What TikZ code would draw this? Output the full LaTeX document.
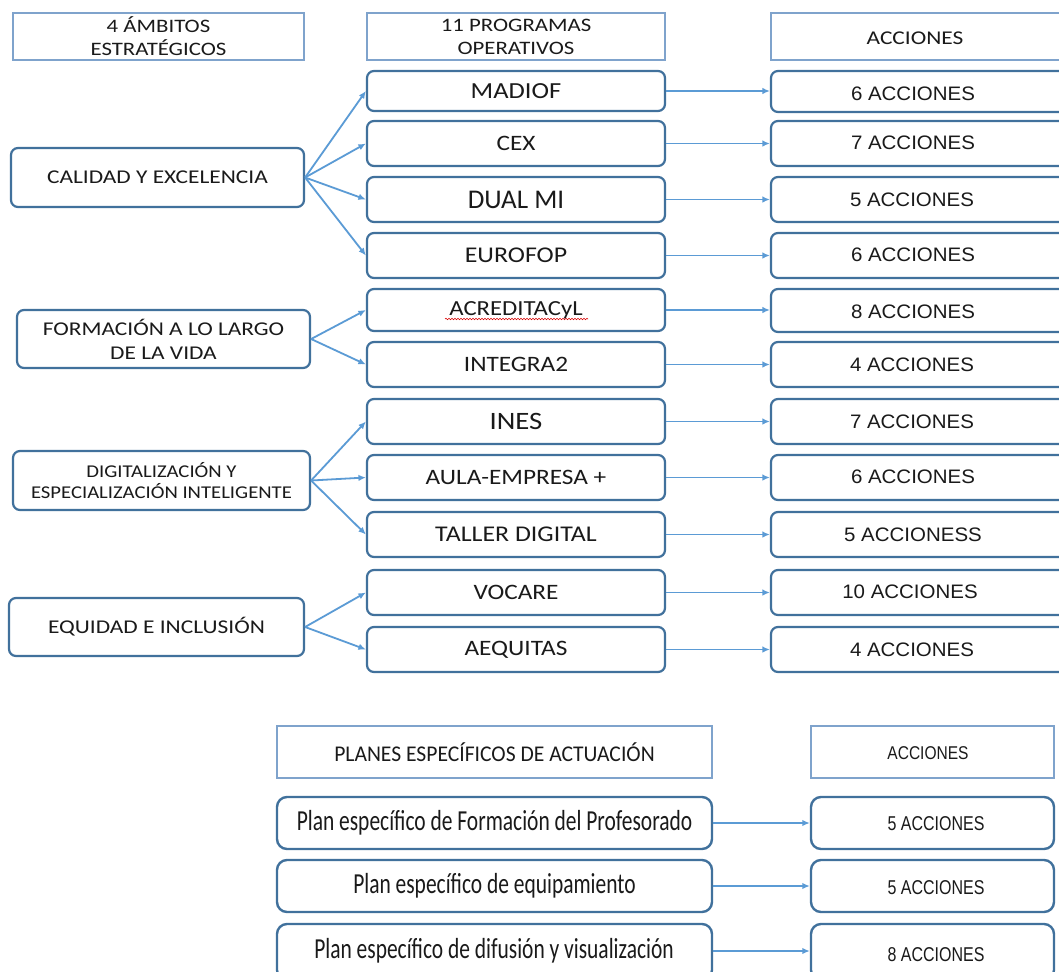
\documentclass[tikz,border=0pt]{standalone}
\usepackage{fontspec}
\setmainfont{Carlito}
\newfontfamily\calN{Carlito}
\newfontfamily\calW{Carlito}[FakeStretch=1.15]
\newfontfamily\calA{Carlito}[FakeStretch=1.2]
\newfontfamily\arialW{Liberation Sans}[FakeStretch=1.05]
\newfontfamily\narrowH{Carlito}[FakeStretch=0.96]
\newfontfamily\narrowF{Carlito}[FakeStretch=0.74]
\newfontfamily\arialN{Liberation Sans}[FakeStretch=0.8]
\newfontfamily\arialH{Liberation Sans}[FakeStretch=0.84]
\usetikzlibrary{arrows.meta,fit,decorations.pathmorphing}
\definecolor{boxblue}{HTML}{41719C}
\definecolor{hdrblue}{HTML}{7FA3CC}
\definecolor{arrblue}{HTML}{5B9BD5}
\definecolor{txt}{HTML}{1A1A1A}
\tikzset{
  hdr/.style={draw=hdrblue, line width=1.4pt, inner sep=0pt},
  bx/.style={draw=boxblue, line width=2.2pt, rounded corners=7pt, inner sep=0pt},
  bbx/.style={draw=boxblue, line width=2.4pt, rounded corners=10pt, inner sep=0pt},
  lbl/.style={text=txt, align=center, inner sep=0pt},
  arr/.style={draw=arrblue, line width=1.8pt, -{Latex[length=7.5pt,width=6.5pt]}},
}
% name, x1, y1, x2, y2, box style, font, text
\newcommand\mybox[8]{%
  \coordinate (#1-a) at (#2,#3);
  \coordinate (#1-b) at (#4,#5);
  \node[#6, fit=(#1-a)(#1-b)] (#1) {};
  \node[lbl, font={#7}] (#1-t) at (#1.center) {#8};
}
\begin{document}
\begin{tikzpicture}[x=1pt,y=-1pt]
\useasboundingbox[fill=white] (0,0) rectangle (1059,971);
% headers
\mybox{h1}{13}{13}{304}{60}{hdr}{}{}
\node[lbl, font=\calA\fontsize{19}{23}\selectfont] (h1-t) at (158.5,36.5) {4 ÁMBITOS\\ESTRATÉGICOS};
\mybox{h2}{367}{13}{665}{60}{hdr}{}{}
\node[lbl, font=\calA\fontsize{19}{23}\selectfont] (h2-t) at (516,36.5) {11 PROGRAMAS\\OPERATIVOS};
\mybox{h3}{771}{13}{1070}{60}{hdr}{}{}
\node[lbl, font=\calA\fontsize{19.5}{20}\selectfont] (h3-t) at (915,38) {ACCIONES};
% ambitos
\mybox{a1}{11}{148}{304}{207}{bx}{\calA\fontsize{19.5}{20}\selectfont}{CALIDAD Y EXCELENCIA}
\mybox{a2}{17}{310}{310}{368}{bx}{\calA\fontsize{19.5}{24}\selectfont}{FORMACIÓN A LO LARGO\\DE LA VIDA}
\mybox{a3}{13}{451}{310}{510}{bx}{\calW\fontsize{18}{21}\selectfont}{DIGITALIZACIÓN Y\\ESPECIALIZACIÓN INTELIGENTE}
\mybox{a4}{9}{598}{304}{656}{bx}{\calA\fontsize{19.5}{20}\selectfont}{EQUIDAD E INCLUSIÓN}
% programas
\mybox{p1}{367}{71}{665}{111}{bx}{\calW\fontsize{23}{24}\selectfont}{MADIOF}
\mybox{p2}{367}{121}{665}{166}{bx}{\calW\fontsize{22}{23}\selectfont}{CEX}
\mybox{p3}{367}{177}{665}{222}{bx}{\calN\fontsize{27}{28}\selectfont}{DUAL MI}
\mybox{p4}{367}{233}{665}{278}{bx}{\calW\fontsize{22.5}{23}\selectfont}{EUROFOP}
\mybox{p5}{367}{289}{665}{331}{bx}{\calW\fontsize{21.5}{22}\selectfont}{ACREDITACyL}
\mybox{p6}{367}{342}{665}{387}{bx}{\calW\fontsize{22}{22}\selectfont}{INTEGRA2}
\mybox{p7}{367}{399}{665}{444}{bx}{\calW\fontsize{25}{26}\selectfont}{INES}
\mybox{p8}{367}{455}{665}{500}{bx}{\calW\fontsize{22}{22}\selectfont}{AULA-EMPRESA +}
\mybox{p9}{367}{512}{665}{557}{bx}{\calW\fontsize{22.5}{22}\selectfont}{TALLER DIGITAL}
\mybox{p10}{367}{570}{665}{615}{bx}{\calW\fontsize{22}{22}\selectfont}{VOCARE}
\mybox{p11}{367}{627}{665}{672}{bx}{\calW\fontsize{22}{22}\selectfont}{AEQUITAS}
% spelling underline
\coordinate (u1) at (445,319);
\coordinate (u2) at (588,319);
\draw[red!85!black, line width=0.6pt, decorate, decoration={snake, amplitude=0.7pt, segment length=3pt}] (u1) -- (u2);
% acciones
\mybox{c1}{771}{71}{1070}{112}{bx}{}{}
\mybox{c2}{771}{121}{1070}{166}{bx}{}{}
\mybox{c3}{771}{177}{1070}{222}{bx}{}{}
\mybox{c4}{771}{233}{1070}{278}{bx}{}{}
\mybox{c5}{771}{289}{1070}{332}{bx}{}{}
\mybox{c6}{771}{342}{1070}{387}{bx}{}{}
\mybox{c7}{771}{399}{1070}{444}{bx}{}{}
\mybox{c8}{771}{455}{1070}{500}{bx}{}{}
\mybox{c9}{771}{512}{1070}{557}{bx}{}{}
\mybox{c10}{771}{570}{1070}{615}{bx}{}{}
\mybox{c11}{771}{627}{1070}{672}{bx}{}{}
\tikzset{acc/.style={lbl, font=\arialW\fontsize{19.5}{20}\selectfont}}
\node[acc] (t1) at (913,94) {6 ACCIONES};
\node[acc] (t2) at (913,143) {7 ACCIONES};
\node[acc] (t3) at (912,200) {5 ACCIONES};
\node[acc] (t4) at (913,255) {6 ACCIONES};
\node[acc] (t5) at (913,312) {8 ACCIONES};
\node[acc] (t6) at (912,365) {4 ACCIONES};
\node[acc] (t7) at (912,422) {7 ACCIONES};
\node[acc] (t8) at (913,477) {6 ACCIONES};
\node[acc] (t9) at (913,535) {5 ACCIONESS};
\node[acc] (t10) at (910,592) {10 ACCIONES};
\node[acc] (t11) at (912,650) {4 ACCIONES};
% arrows ambitos -> programas
\foreach \p in {p1,p2,p3,p4} \draw[arr] (a1.east) -- (\p.west);
\foreach \p in {p5,p6} \draw[arr] (a2.east) -- (\p.west);
\foreach \p in {p7,p8,p9} \draw[arr] (a3.east) -- (\p.west);
\foreach \p in {p10,p11} \draw[arr] (a4.east) -- (\p.west);
% arrows programas -> acciones
\foreach \i in {1,...,11} \draw[arr] (p\i.east) -- (c\i.west |- p\i.east);
% bottom section
\mybox{ph}{277}{726}{712}{778}{hdr}{\narrowH\fontsize{22.5}{24}\selectfont}{PLANES ESPECÍFICOS DE ACTUACIÓN}
\mybox{ah}{811}{726}{1054}{778}{hdr}{}{}
\node[lbl, font=\arialH\fontsize{18.5}{19}\selectfont] (ah-t) at (928,753) {ACCIONES};
\mybox{pl1}{277}{797}{712}{849}{bbx}{\narrowF\fontsize{29}{30}\selectfont}{Plan específico de Formación del Profesorado}
\mybox{pl2}{277}{860}{712}{912}{bbx}{\narrowF\fontsize{29}{30}\selectfont}{Plan específico de equipamiento}
\mybox{pl3}{277}{924}{712}{980}{bbx}{}{}
\node[lbl, font=\narrowF\fontsize{29}{30}\selectfont] (pl3-t) at (494,951) {Plan específico de difusión y visualización};
\mybox{ac1}{811}{797}{1054}{849}{bbx}{}{}
\mybox{ac2}{811}{860}{1054}{912}{bbx}{}{}
\mybox{ac3}{811}{924}{1054}{980}{bbx}{}{}
\tikzset{bacc/.style={lbl, font=\arialN\fontsize{20}{21}\selectfont}}
\node[bacc] (bt1) at (936,824) {5 ACCIONES};
\node[bacc] (bt2) at (936,888) {5 ACCIONES};
\node[bacc] (bt3) at (936,955) {8 ACCIONES};
\draw[arr] (pl1.east) -- (ac1.west);
\draw[arr] (pl2.east) -- (ac2.west);
\coordinate (m3) at (0,951);
\draw[arr] (pl3.east |- m3) -- (ac3.west |- m3);
\end{tikzpicture}
\end{document}
